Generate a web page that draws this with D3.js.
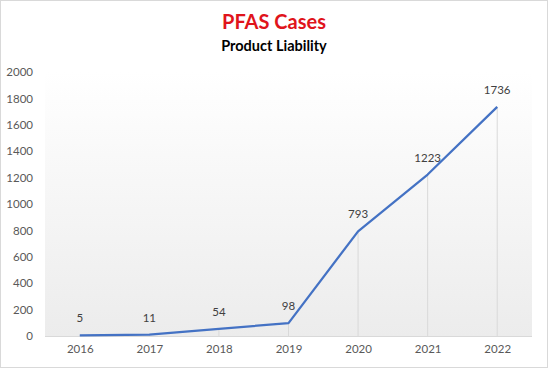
<!DOCTYPE html>
<html><head><meta charset="utf-8">
<script src="https://cdn.jsdelivr.net/npm/d3@7"></script>
<style>body{margin:0;background:#fff}svg{display:block}</style>
</head><body>
<script>
const years = ["2016","2017","2018","2019","2020","2021","2022"];
const cases = [5, 11, 54, 98, 793, 1223, 1736];
const yTicks = [0,200,400,600,800,1000,1200,1400,1600,1800,2000];

const W = 548, H = 368;
const m = {left:45, right:16, top:72, bottom:32};
const svg = d3.select("body").append("svg").attr("width",W).attr("height",H);
const font = "Lato, 'Open Sans', sans-serif";

svg.append("rect").attr("x",0.5).attr("y",0.5).attr("width",W-1).attr("height",H-1)
  .attr("fill","#fff").attr("stroke","#d9d9d9");

const defs = svg.append("defs");
const g = defs.append("linearGradient").attr("id","bg").attr("x1",0).attr("y1",0).attr("x2",0).attr("y2",1);
g.append("stop").attr("offset","0%").attr("stop-color","#ffffff");
g.append("stop").attr("offset","100%").attr("stop-color","#ececec");

const x = d3.scalePoint().domain(years).range([m.left, W-m.right]).padding(0.5);
const y = d3.scaleLinear().domain([0,2000]).range([H-m.bottom, m.top]);

svg.append("rect").attr("x",m.left).attr("y",m.top).attr("width",W-m.right-m.left)
  .attr("height",H-m.bottom-m.top).attr("fill","url(#bg)");

// Drop lines
svg.append("g").selectAll("line").data(years).join("line")
  .attr("x1",d=>x(d)).attr("x2",d=>x(d))
  .attr("y1",(d,i)=>y(cases[i])).attr("y2",y(0))
  .attr("stroke","#d9d9d9").attr("stroke-width",1);

// y axis
const ya = svg.append("g").attr("transform",`translate(${m.left},0)`)
  .call(d3.axisLeft(y).tickValues(yTicks).tickFormat(d3.format("d")).tickSize(0).tickPadding(12));
ya.select(".domain").remove();
ya.selectAll("text").attr("font-family",font).attr("font-size",11.5).attr("fill","#595959");

// x axis
const xa = svg.append("g").attr("transform",`translate(0,${y(0)})`)
  .call(d3.axisBottom(x).tickSize(0).tickPadding(9));
xa.select(".domain").attr("stroke","#d9d9d9").attr("d",`M${m.left},0.5H${W-m.right}`);
xa.selectAll("text").attr("font-family",font).attr("font-size",11.5).attr("fill","#595959");

// line
const line = d3.line().x((d,i)=>x(years[i])).y(d=>y(d));
svg.append("path").datum(cases).attr("d",line).attr("fill","none")
  .attr("stroke","#4472c4").attr("stroke-width",2.25).attr("stroke-linejoin","round");

// labels
svg.append("g").selectAll("text").data(cases).join("text")
  .attr("x",(d,i)=>x(years[i])).attr("y",d=>y(d)-13)
  .attr("text-anchor","middle").attr("font-family",font).attr("font-size",11.5)
  .attr("fill","#404040").text(d=>d);

svg.append("text").attr("x",W/2).attr("y",29).attr("text-anchor","middle")
  .attr("font-family",font).attr("font-weight","bold").attr("font-size",20)
  .attr("fill","#e0141b").text("PFAS Cases");
svg.append("text").attr("x",W/2).attr("y",51).attr("text-anchor","middle")
  .attr("font-family",font).attr("font-weight","bold").attr("font-size",14.5)
  .attr("fill","#000").text("Product Liability");
</script>
</body></html>
